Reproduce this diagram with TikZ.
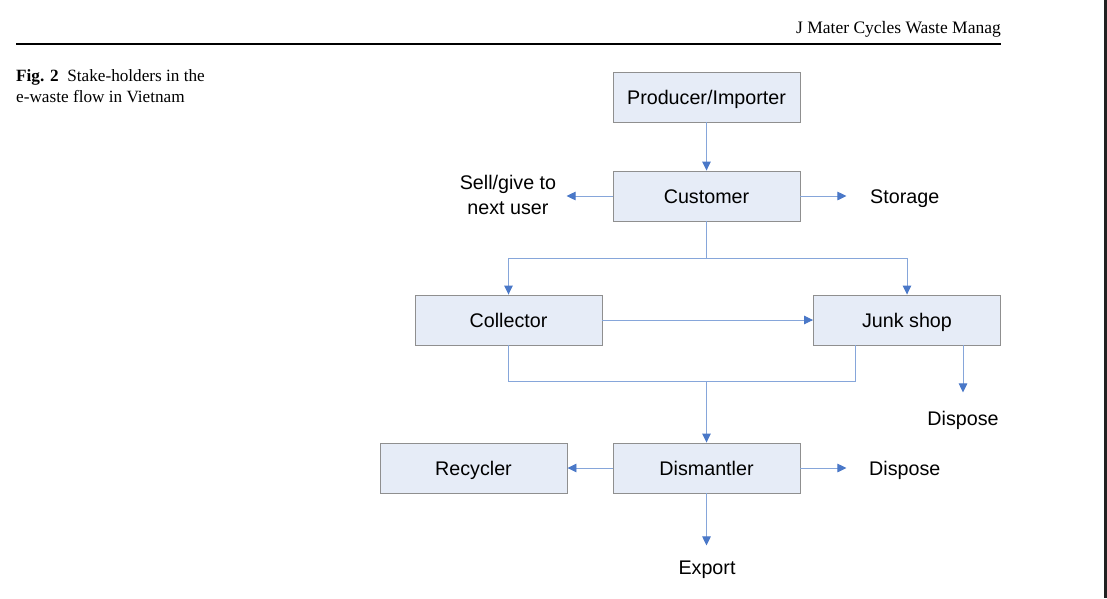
\documentclass[tikz,border=0pt]{standalone}
\usepackage{fontspec}
\setmainfont{Liberation Serif}
\newfontfamily\arialfont{Liberation Sans}
\usetikzlibrary{arrows.meta,calc}
\definecolor{boxfill}{HTML}{E6ECF7}
\definecolor{boxline}{HTML}{8F8F8F}
\definecolor{linkline}{HTML}{86A6DA}
\definecolor{tipblue}{HTML}{4A78C8}
\begin{document}
\begin{tikzpicture}[x=1pt,y=-1pt,
  stakebox/.style={draw=boxline,fill=boxfill,line width=0.9pt,minimum width=187pt,minimum height=50pt,inner sep=0pt,
    font=\arialfont\fontsize{19.7}{23}\selectfont,text height=14pt,text depth=0pt},
  plainlbl/.style={inner sep=0pt,font=\arialfont\fontsize{19.7}{23}\selectfont,text height=14pt,text depth=0pt},
  link/.style={draw=linkline,line width=0.9pt},
  arr/.style={link,-{Triangle[length=9pt,width=8.5pt,color=tipblue]}}]
\useasboundingbox (0,0) rectangle (1107,598);
\fill[white] (0,0) rectangle (1107,598);
\fill[black!87] (1104,0) rectangle (1107,598);
% header
\node[anchor=base east,inner sep=0pt,font=\fontsize{17.5}{20}\selectfont] (hdr) at (1001,33) {J Mater Cycles Waste Manag};
\draw[line width=2pt] (16,44) coordinate (rl) -- (1001,44) coordinate (rr);
% caption
\node[anchor=base west,inner sep=0pt,font=\fontsize{17.2}{20}\selectfont,align=left] (cap1) at (16,81) {\textbf{Fig. 2}\hspace{0.5em}Stake-holders in the};
\node[anchor=base west,inner sep=0pt,font=\fontsize{17.2}{20}\selectfont] (cap2) at (16,102) {e-waste flow in Vietnam};
% boxes
\node[stakebox] (prod) at (706.5,97) {Producer/Importer};
\node[stakebox] (cust) at (706.5,196) {Customer};
\node[stakebox] (coll) at (508.5,320) {Collector};
\node[stakebox] (junk) at (907,320) {Junk shop};
\node[stakebox] (recy) at (473.5,468) {Recycler};
\node[stakebox] (dism) at (706.5,468) {Dismantler};
% labels
\node[plainlbl,align=center] (sell) at (508,207) {Sell/give to\\[1.5pt]next user};
\node[plainlbl,anchor=west] (stor) at (870,196) {Storage};
\node[plainlbl] (djunk) at (963,418) {Dispose};
\node[plainlbl,anchor=west] (ddism) at (869,468) {Dispose};
\node[plainlbl] (expo) at (707,567) {Export};
% connectors
\draw[arr] (prod.south) -- (cust.north);
\draw[arr] (cust.west) -- ++(-46,0);
\draw[arr] (cust.east) -- ++(46,0);
\draw[link] (cust.south) -- ++(0,37) coordinate (split);
\draw[arr] (split) -| (coll.north);
\draw[arr] (split) -| (junk.north);
\draw[arr] (coll.east) -- (junk.west);
\coordinate (jb) at ($(junk.south west)+(42,0)$);
\draw[link] (coll.south) -- ++(0,36) coordinate (cb) -| (jb);
\coordinate (merge) at (cust.south |- cb);
\draw[arr] (merge) -- (dism.north);
\draw[arr] (djunk.north |- junk.south) -- ++(0,47);
\draw[arr] (dism.west) -- (recy.east);
\draw[arr] (dism.east) -- ++(46,0);
\draw[arr] (dism.south) -- ++(0,52);
\end{tikzpicture}
\end{document}
